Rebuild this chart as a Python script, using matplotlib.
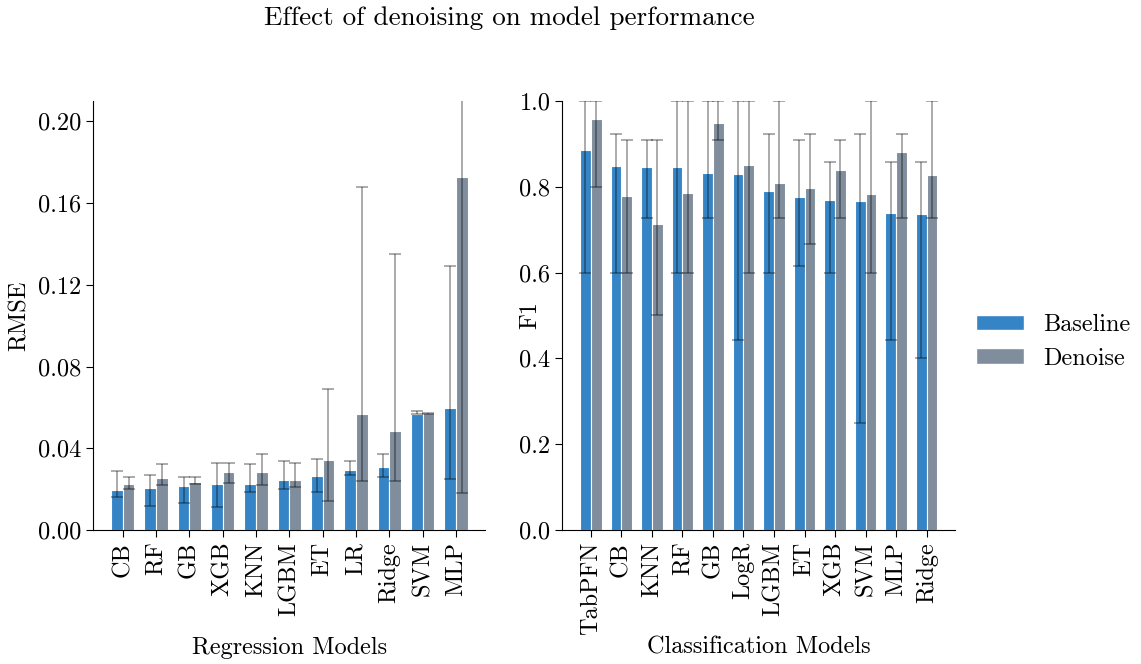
import matplotlib
matplotlib.use("Agg")
import matplotlib.pyplot as plt
import numpy as np
from matplotlib.patches import Patch

plt.rcParams["font.family"] = ["cmr10", "DejaVu Serif"]
plt.rcParams["mathtext.fontset"] = "cm"
plt.rcParams["axes.unicode_minus"] = False
plt.rcParams["axes.formatter.use_mathtext"] = True

# regression (RMSE)
reg_models = ["CB", "RF", "GB", "XGB", "KNN", "LGBM", "ET", "LR", "Ridge", "SVM", "MLP"]
reg_base = [0.0196, 0.0206, 0.0216, 0.0226, 0.0226, 0.0245, 0.0265, 0.0296, 0.0306, 0.0568, 0.0595]
reg_base_lo = [0.0160, 0.0119, 0.0131, 0.0111, 0.0188, 0.0200, 0.0188, 0.0270, 0.0258, 0.0566, 0.0250]
reg_base_hi = [0.0291, 0.0270, 0.0258, 0.0330, 0.0321, 0.0340, 0.0350, 0.0340, 0.0371, 0.0581, 0.1292]
reg_den = [0.0226, 0.0255, 0.0234, 0.0286, 0.0286, 0.0245, 0.0345, 0.0566, 0.0486, 0.0572, 0.1726]
reg_den_lo = [0.0201, 0.0218, 0.0226, 0.0229, 0.0218, 0.0209, 0.0141, 0.0240, 0.0240, 0.0570, 0.0180]
reg_den_hi = [0.0258, 0.0321, 0.0258, 0.0330, 0.0371, 0.0330, 0.0690, 0.1680, 0.1351, 0.0574, 0.2500]

# classification (F1)
clf_models = ["TabPFN", "CB", "KNN", "RF", "GB", "LogR", "LGBM", "ET", "XGB", "SVM", "MLP", "Ridge"]
clf_base = [0.885, 0.849, 0.846, 0.845, 0.832, 0.829, 0.790, 0.777, 0.770, 0.768, 0.739, 0.737]
clf_base_lo = [0.600, 0.600, 0.727, 0.600, 0.727, 0.444, 0.600, 0.616, 0.600, 0.250, 0.444, 0.400]
clf_base_hi = [1.000, 0.924, 0.909, 1.000, 1.000, 1.000, 0.924, 0.909, 0.857, 0.924, 0.857, 0.857]
clf_den = [0.959, 0.779, 0.714, 0.786, 0.949, 0.851, 0.809, 0.798, 0.840, 0.783, 0.880, 0.828]
clf_den_lo = [0.800, 0.600, 0.500, 0.600, 0.909, 0.600, 0.727, 0.667, 0.727, 0.600, 0.727, 0.727]
clf_den_hi = [1.000, 0.909, 0.909, 1.000, 1.000, 1.000, 1.000, 0.924, 0.909, 1.000, 0.924, 1.000]

c_base = "#3585c6"
c_den = "#808d9c"
width = 0.35
fs = 17.5
err_kw = dict(ecolor="black", capsize=4, elinewidth=1.1, capthick=1.1)

fig = plt.figure(figsize=(11.41, 6.64), dpi=100)
ax1 = fig.add_axes([0.0818, 0.2018, 0.3436, 0.6461])
ax2 = fig.add_axes([0.4928, 0.2018, 0.3444, 0.6461])


def draw(ax, models, base, blo, bhi, den, dlo, dhi):
    x = np.arange(len(models))
    base = np.array(base)
    den = np.array(den)
    ax.bar(x - width / 2, base, width, color=c_base, edgecolor="white", linewidth=0.8)
    ax.bar(x + width / 2, den, width, color=c_den, edgecolor="white", linewidth=0.8)
    for xs, v, lo, hi in [(x - width / 2, base, blo, bhi), (x + width / 2, den, dlo, dhi)]:
        yerr = [v - np.array(lo), np.array(hi) - v]
        eb = ax.errorbar(xs, v, yerr=yerr, fmt="none", **err_kw)
        for part in eb.lines[1] + eb.lines[2]:
            part.set_alpha(0.42)
    ax.set_xticks(x)
    ax.set_xticklabels(models, rotation=90, fontsize=fs)
    ax.tick_params(axis="y", labelsize=fs)
    ax.tick_params(direction="out", length=5)
    ax.spines["top"].set_visible(False)
    ax.spines["right"].set_visible(False)


draw(ax1, reg_models, reg_base, reg_base_lo, reg_base_hi, reg_den, reg_den_lo, reg_den_hi)
draw(ax2, clf_models, clf_base, clf_base_lo, clf_base_hi, clf_den, clf_den_lo, clf_den_hi)

ax1.set_ylim(0, 0.21)
ax1.set_yticks([0.0, 0.04, 0.08, 0.12, 0.16, 0.20])
ax1.set_yticklabels(["0.00", "0.04", "0.08", "0.12", "0.16", "0.20"])
ax2.set_ylim(0, 1.0)
ax2.set_yticks([0.0, 0.2, 0.4, 0.6, 0.8, 1.0])
ax2.set_yticklabels(["0.0", "0.2", "0.4", "0.6", "0.8", "1.0"])

ax1.set_ylabel("RMSE", fontsize=fs, va="center")
ax2.set_ylabel("F1", fontsize=fs, va="center")
ax1.yaxis.set_label_coords(-0.187, 0.5)
ax2.yaxis.set_label_coords(-0.082, 0.5)
ax1.set_xlabel("Regression Models", fontsize=fs, va="center")
ax2.set_xlabel("Classification Models", fontsize=fs, va="center")
ax1.xaxis.set_label_coords(0.5, -0.275)
ax2.xaxis.set_label_coords(0.5, -0.273)

fig.text(509 / 1141, 1 - 18 / 664, "Effect of denoising on model performance",
         ha="center", va="center", fontsize=19.5)

handles = [Patch(facecolor=c_base, edgecolor="white"), Patch(facecolor=c_den, edgecolor="white")]
fig.legend(handles, ["Baseline", "Denoise"], loc="center left",
           bbox_to_anchor=(0.8365, 0.485), frameon=False, fontsize=fs,
           handlelength=1.95, handleheight=0.62, labelspacing=0.48,
           handletextpad=0.8)

fig.savefig("out.png", dpi=100)
